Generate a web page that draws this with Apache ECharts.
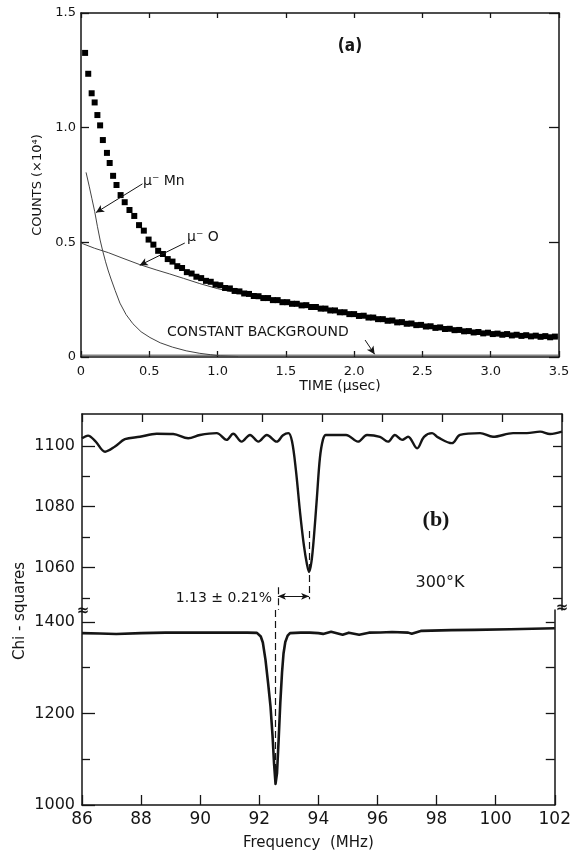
<!DOCTYPE html>
<html>
<head>
<meta charset="utf-8">
<script src="https://cdn.jsdelivr.net/npm/echarts@6/dist/echarts.min.js"></script>
<style>
  html, body { margin: 0; padding: 0; background: #fff; }
  #main { width: 574px; height: 856px; }
</style>
</head>
<body>
<div id="main"></div>
<script>
// (a) muon decay counts, time in microseconds, counts in units of 10^4
var timeUs = [0.03, 0.053, 0.078, 0.10, 0.12, 0.14, 0.16, 0.19, 0.21, 0.235, 0.26, 0.29,
    0.32, 0.355, 0.39, 0.425, 0.46, 0.495, 0.53, 0.565, 0.60, 0.635, 0.67, 0.705, 0.74, 0.775,
    0.81, 0.845, 0.88, 0.915, 0.95, 0.985, 1.02, 1.055, 1.09, 1.125, 1.16, 1.195, 1.23, 1.265,
    1.30, 1.335, 1.37, 1.405, 1.44, 1.475, 1.51, 1.545, 1.58, 1.615, 1.65, 1.685, 1.72, 1.755,
    1.79, 1.825, 1.86, 1.895, 1.93, 1.965, 2.00, 2.035, 2.07, 2.105, 2.14, 2.175, 2.21, 2.245,
    2.28, 2.315, 2.35, 2.385, 2.42, 2.455, 2.49, 2.525, 2.56, 2.595, 2.63, 2.665, 2.70, 2.735,
    2.77, 2.805, 2.84, 2.875, 2.91, 2.945, 2.98, 3.015, 3.05, 3.085, 3.12, 3.155, 3.19, 3.225,
    3.26, 3.295, 3.33, 3.365, 3.40, 3.435, 3.47];
var counts = [1.326, 1.235, 1.15, 1.11, 1.055, 1.01, 0.946, 0.89, 0.846, 0.79, 0.75, 0.706,
    0.675, 0.641, 0.615, 0.575, 0.551, 0.512, 0.490, 0.463, 0.449, 0.427, 0.416, 0.396, 0.388, 0.370,
    0.364, 0.350, 0.344, 0.332, 0.328, 0.316, 0.313, 0.301, 0.299, 0.288, 0.286, 0.277, 0.275, 0.266,
    0.265, 0.257, 0.257, 0.248, 0.248, 0.239, 0.239, 0.232, 0.232, 0.225, 0.226, 0.218, 0.218, 0.211,
    0.211, 0.203, 0.203, 0.195, 0.195, 0.187, 0.187, 0.179, 0.180, 0.172, 0.172, 0.165, 0.165, 0.158,
    0.159, 0.151, 0.152, 0.145, 0.146, 0.139, 0.140, 0.133, 0.134, 0.127, 0.129, 0.122, 0.123, 0.117,
    0.118, 0.112, 0.113, 0.107, 0.109, 0.103, 0.106, 0.100, 0.102, 0.097, 0.100, 0.094, 0.097, 0.092,
    0.095, 0.090, 0.093, 0.088, 0.091, 0.086, 0.089];

var mnTime = [0.037, 0.06, 0.08, 0.10, 0.12, 0.14, 0.16, 0.18, 0.20, 0.22, 0.25, 0.285, 0.33, 0.38, 0.44, 0.505, 0.58, 0.67, 0.77, 0.87, 0.95, 1.02, 1.15];
var mnCounts = [0.805, 0.745, 0.69, 0.635, 0.57, 0.51, 0.46, 0.415, 0.375, 0.34, 0.29, 0.235, 0.185, 0.145, 0.11, 0.085, 0.062, 0.043, 0.027, 0.016, 0.010, 0.005, 0.002];

var oTime = [0.0, 0.1, 0.2, 0.3, 0.43, 0.55, 0.65, 0.75, 0.87, 1.0, 1.2, 1.5, 2.0, 2.5, 3.0, 3.5];
var oCounts = [0.497, 0.474, 0.455, 0.432, 0.403, 0.380, 0.362, 0.343, 0.320, 0.298, 0.272, 0.235, 0.183, 0.135, 0.103, 0.086];

var bgTime = [0.0, 3.5];
var bgCounts = [0.008, 0.008];

// (b) chi-squares vs frequency, upper and lower traces
var freqUpper = [86.0, 86.2, 86.45, 86.77, 87.1, 87.43, 87.93, 88.49, 89.04, 89.54, 89.93, 90.49, 90.82,
    91.04, 91.32, 91.6, 91.88, 92.16, 92.49, 92.7, 92.88, 93.0, 93.13, 93.27, 93.4, 93.5, 93.57, 93.65,
    93.73, 93.83, 93.93, 94.03, 94.13, 94.8, 95.2, 95.5, 95.93, 96.2, 96.43, 96.67, 96.87, 97.17, 97.4,
    97.67, 97.87, 98.33, 98.6, 99.27, 99.7, 100.37, 100.83, 101.27, 101.6, 102.0];
var chiUpper = [1102.5, 1103.4, 1101.5, 1098.1, 1099.8, 1102.2, 1103.0, 1104.0, 1103.9, 1102.5, 1103.6, 1104.2, 1102.0,
    1104.0, 1101.4, 1103.6, 1101.4, 1103.6, 1101.4, 1103.5, 1104.2, 1101.5, 1092, 1078, 1067, 1061, 1058.5, 1062,
    1070, 1083, 1096, 1102, 1103.6, 1103.6, 1101.4, 1103.6, 1103.0, 1101.4, 1103.6, 1102.0, 1103.0, 1099.2, 1103.0,
    1104.2, 1102.8, 1100.9, 1103.6, 1104.2, 1103.0, 1104.2, 1104.2, 1104.7, 1103.9, 1104.7];

var freqLower = [86.0, 86.6, 87.16, 88.0, 88.82, 90.0, 91.04, 91.6, 91.92, 92.05, 92.12, 92.21, 92.3, 92.38,
    92.45, 92.5, 92.55, 92.6, 92.66, 92.71, 92.77, 92.82, 92.88, 92.96, 93.04, 93.4, 93.71, 94.0, 94.16,
    94.43, 94.82, 95.03, 95.38, 95.71, 96.1, 96.49, 97.04, 97.16, 97.49, 98.5, 99.27, 100.5, 102.0];
var chiLower = [1375.5, 1374.5, 1373.5, 1375.5, 1376.5, 1376.5, 1376.5, 1376.5, 1376, 1368, 1355, 1317, 1265, 1215,
    1150, 1090, 1046, 1070, 1150, 1222, 1290, 1331, 1356, 1370, 1375.5, 1376.5, 1376.6, 1375.5, 1373.8,
    1378.5, 1372, 1376.5, 1372, 1376.5, 1377, 1378, 1376.6, 1374, 1380.5, 1382, 1382.5, 1384, 1386];

var upperMajor = [1060, 1080, 1100];
var upperMinor = [1050, 1070, 1090];
var lowerMajor = [1000, 1200, 1400];
var lowerMinor = [1100, 1300];

var lowerDip = 92.53;
var upperDip = 93.57;

function pairs(xs, ys) {
    var out = [];
    for (var i = 0; i < xs.length; i++) out.push([xs[i], ys[i]]);
    return out;
}

document.addEventListener('DOMContentLoaded', function () {
    var chart = echarts.init(document.getElementById('main'), null, { renderer: 'canvas' });
    var ink = '#151515';
    var font = 'DejaVu Sans';
    var frame = { show: true, onZero: false, lineStyle: { color: ink, width: 1.5 } };

    function tick(len, values) {
        var t = { show: true, inside: true, length: len, lineStyle: { color: ink, width: 1.3 } };
        if (values) t.customValues = values;
        return t;
    }
    function plain(v) { return String(v); }
    function oneDecimal(v) { return v === 0 ? '0' : v.toFixed(1); }

    var option = {
        animation: false,
        backgroundColor: '#fff',
        grid: [
            { left: 81, top: 13, width: 478, height: 344 },
            { left: 82, top: 414, width: 480, height: 196 },
            { left: 82, top: 610, width: 480, height: 195 }
        ],
        xAxis: [
            {
                gridIndex: 0, type: 'value', position: 'bottom', min: 0, max: 3.5, interval: 0.5,
                axisLine: frame, axisTick: tick(6), splitLine: { show: false },
                axisLabel: { color: ink, fontFamily: font, fontSize: 13, margin: 8, formatter: oneDecimal },
                name: 'TIME (\u03bcsec)', nameLocation: 'middle', nameGap: 22,
                nameTextStyle: { color: ink, fontFamily: font, fontSize: 14, padding: [0, 0, 0, 40] }
            },
            {
                gridIndex: 0, type: 'value', position: 'top', min: 0, max: 3.5, interval: 0.5,
                axisLine: frame, axisTick: tick(5), axisLabel: { show: false }, splitLine: { show: false }
            },
            {
                gridIndex: 1, type: 'value', position: 'top', min: 86, max: 102, interval: 2,
                axisLine: frame, axisTick: tick(8), axisLabel: { show: false }, splitLine: { show: false }
            },
            {
                gridIndex: 2, type: 'value', position: 'bottom', min: 86, max: 102, interval: 2,
                axisLine: frame, axisTick: tick(10), splitLine: { show: false },
                axisLabel: { color: ink, fontFamily: font, fontSize: 17, margin: 6, formatter: plain },
                name: 'Frequency  (MHz)', nameLocation: 'middle', nameGap: 31,
                nameTextStyle: { color: ink, fontFamily: font, fontSize: 15, padding: [0, 20, 0, 0] }
            }
        ],
        yAxis: [
            {
                gridIndex: 0, type: 'value', position: 'left', min: 0, max: 1.5, interval: 0.5,
                axisLine: frame, axisTick: tick(8), splitLine: { show: false },
                axisLabel: { color: ink, fontFamily: font, fontSize: 13, margin: 5, formatter: oneDecimal },
                name: 'COUNTS (\u00d710\u2074)', nameLocation: 'middle', nameGap: 30, nameRotate: 90,
                nameTextStyle: { color: ink, fontFamily: font, fontSize: 13 }
            },
            {
                gridIndex: 0, type: 'value', position: 'right', min: 0, max: 1.5, interval: 0.5,
                axisLine: frame, axisTick: tick(10), axisLabel: { show: false }, splitLine: { show: false }
            },
            {
                gridIndex: 1, type: 'value', position: 'left', min: 1046, max: 1110.5,
                axisLine: frame, axisTick: tick(13, upperMajor), splitLine: { show: false },
                axisLabel: { color: ink, fontFamily: font, fontSize: 16, margin: 7, customValues: upperMajor, formatter: plain }
            },
            {
                gridIndex: 1, type: 'value', position: 'left', min: 1046, max: 1110.5,
                axisLine: { show: false }, axisTick: tick(8, upperMinor), axisLabel: { show: false }, splitLine: { show: false }
            },
            {
                gridIndex: 1, type: 'value', position: 'right', min: 1046, max: 1110.5,
                axisLine: frame, axisTick: tick(9, upperMinor.concat(upperMajor)), axisLabel: { show: false }, splitLine: { show: false }
            },
            {
                gridIndex: 2, type: 'value', position: 'left', min: 1000, max: 1426,
                axisLine: frame, axisTick: tick(13, lowerMajor), splitLine: { show: false },
                axisLabel: { color: ink, fontFamily: font, fontSize: 16, margin: 7, customValues: lowerMajor, formatter: plain }
            },
            {
                gridIndex: 2, type: 'value', position: 'left', min: 1000, max: 1426,
                axisLine: { show: false }, axisTick: tick(8, lowerMinor), axisLabel: { show: false }, splitLine: { show: false }
            },
            {
                gridIndex: 2, type: 'value', position: 'right', min: 1000, max: 1426,
                axisLine: frame, axisTick: tick(9, [1100, 1200, 1300, 1400]), axisLabel: { show: false }, splitLine: { show: false }
            }
        ],
        series: [
            {
                name: 'data', type: 'scatter', xAxisIndex: 0, yAxisIndex: 0,
                data: pairs(timeUs, counts), symbol: 'rect', symbolSize: 6,
                itemStyle: { color: '#000', opacity: 1 }, silent: true, z: 3
            },
            {
                name: 'Mn', type: 'line', xAxisIndex: 0, yAxisIndex: 0, data: pairs(mnTime, mnCounts),
                showSymbol: false, smooth: false, lineStyle: { color: '#444', width: 1 }, silent: true
            },
            {
                name: 'O', type: 'line', xAxisIndex: 0, yAxisIndex: 0, data: pairs(oTime, oCounts),
                showSymbol: false, smooth: false, lineStyle: { color: '#444', width: 1 }, silent: true
            },
            {
                name: 'background', type: 'line', xAxisIndex: 0, yAxisIndex: 0, data: pairs(bgTime, bgCounts),
                showSymbol: false, lineStyle: { color: '#444', width: 1 }, silent: true,
                markLine: {
                    silent: true, symbol: ['none', 'arrow'], symbolSize: [6, 8],
                    label: { show: false }, lineStyle: { color: ink, width: 1, type: 'solid' },
                    data: [
                        [{ coord: [0.45, 0.755] }, { coord: [0.11, 0.63] }],
                        [{ coord: [0.76, 0.497] }, { coord: [0.43, 0.40] }],
                        [{ coord: [2.08, 0.074] }, { coord: [2.15, 0.012] }]
                    ]
                }
            },
            {
                name: 'upper', type: 'line', xAxisIndex: 2, yAxisIndex: 2, data: pairs(freqUpper, chiUpper),
                showSymbol: false, smooth: 0.35, lineStyle: { color: ink, width: 2.4 }, silent: true,
                markLine: {
                    silent: true, symbol: 'none', label: { show: false },
                    lineStyle: { color: ink, width: 1.2, type: [7, 4] },
                    data: [
                        [{ coord: [lowerDip, 1053.5] }, { coord: [lowerDip, 1046] }],
                        [{ coord: [upperDip, 1072] }, { coord: [upperDip, 1049.5] }]
                    ]
                }
            },
            {
                name: 'gap', type: 'line', xAxisIndex: 2, yAxisIndex: 2, data: [], silent: true,
                markLine: {
                    silent: true, symbol: ['arrow', 'arrow'], symbolSize: [5, 8], label: { show: false },
                    lineStyle: { color: ink, width: 1, type: 'solid' },
                    data: [[{ coord: [lowerDip, 1050.5] }, { coord: [upperDip, 1050.5] }]]
                }
            },
            {
                name: 'lower', type: 'line', xAxisIndex: 3, yAxisIndex: 5, data: pairs(freqLower, chiLower),
                showSymbol: false, smooth: false, lineStyle: { color: ink, width: 2.6, join: 'round' }, silent: true,
                markLine: {
                    silent: true, symbol: 'none', label: { show: false },
                    lineStyle: { color: ink, width: 1.2, type: [7, 4] },
                    data: [[{ coord: [lowerDip, 1426] }, { coord: [lowerDip, 1060] }]]
                }
            }
        ],
        graphic: [
            { type: 'text', x: 350, y: 47, style: { text: '(a)', font: 'bold 17px "DejaVu Sans Condensed", "DejaVu Sans"', fill: ink, align: 'center', verticalAlign: 'middle' } },
            { type: 'text', x: 143, y: 181, style: { text: '\u03bc\u207b Mn', font: '14px "DejaVu Sans"', fill: ink, align: 'left', verticalAlign: 'middle' } },
            { type: 'text', x: 187, y: 237, style: { text: '\u03bc\u207b O', font: '14px "DejaVu Sans"', fill: ink, align: 'left', verticalAlign: 'middle' } },
            { type: 'text', x: 167, y: 332, style: { text: 'CONSTANT BACKGROUND', font: '14px "DejaVu Sans"', fill: ink, align: 'left', verticalAlign: 'middle' } },
            { type: 'text', x: 436, y: 520, style: { text: '(b)', font: 'bold 22px "Liberation Serif"', fill: ink, align: 'center', verticalAlign: 'middle' } },
            { type: 'text', x: 440, y: 583, style: { text: '300\u00b0K', font: '16px "DejaVu Sans"', fill: ink, align: 'center', verticalAlign: 'middle' } },
            { type: 'text', x: 272, y: 598, style: { text: '1.13 \u00b1 0.21%', font: '14px "DejaVu Sans"', fill: ink, align: 'right', verticalAlign: 'middle' } },
            { type: 'text', x: 20, y: 611, rotation: Math.PI / 2, style: { text: 'Chi - squares', font: '15px "DejaVu Sans"', fill: ink, align: 'center', verticalAlign: 'middle' } },
            { type: 'text', x: 83, y: 611, style: { text: '\u2248', font: 'bold 15px "DejaVu Sans"', fill: ink, align: 'center', verticalAlign: 'middle' } },
            { type: 'text', x: 562, y: 608, style: { text: '\u2248', font: 'bold 15px "DejaVu Sans"', fill: ink, align: 'center', verticalAlign: 'middle' } }
        ]
    };

    chart.setOption(option);
});
</script>
</body>
</html>
